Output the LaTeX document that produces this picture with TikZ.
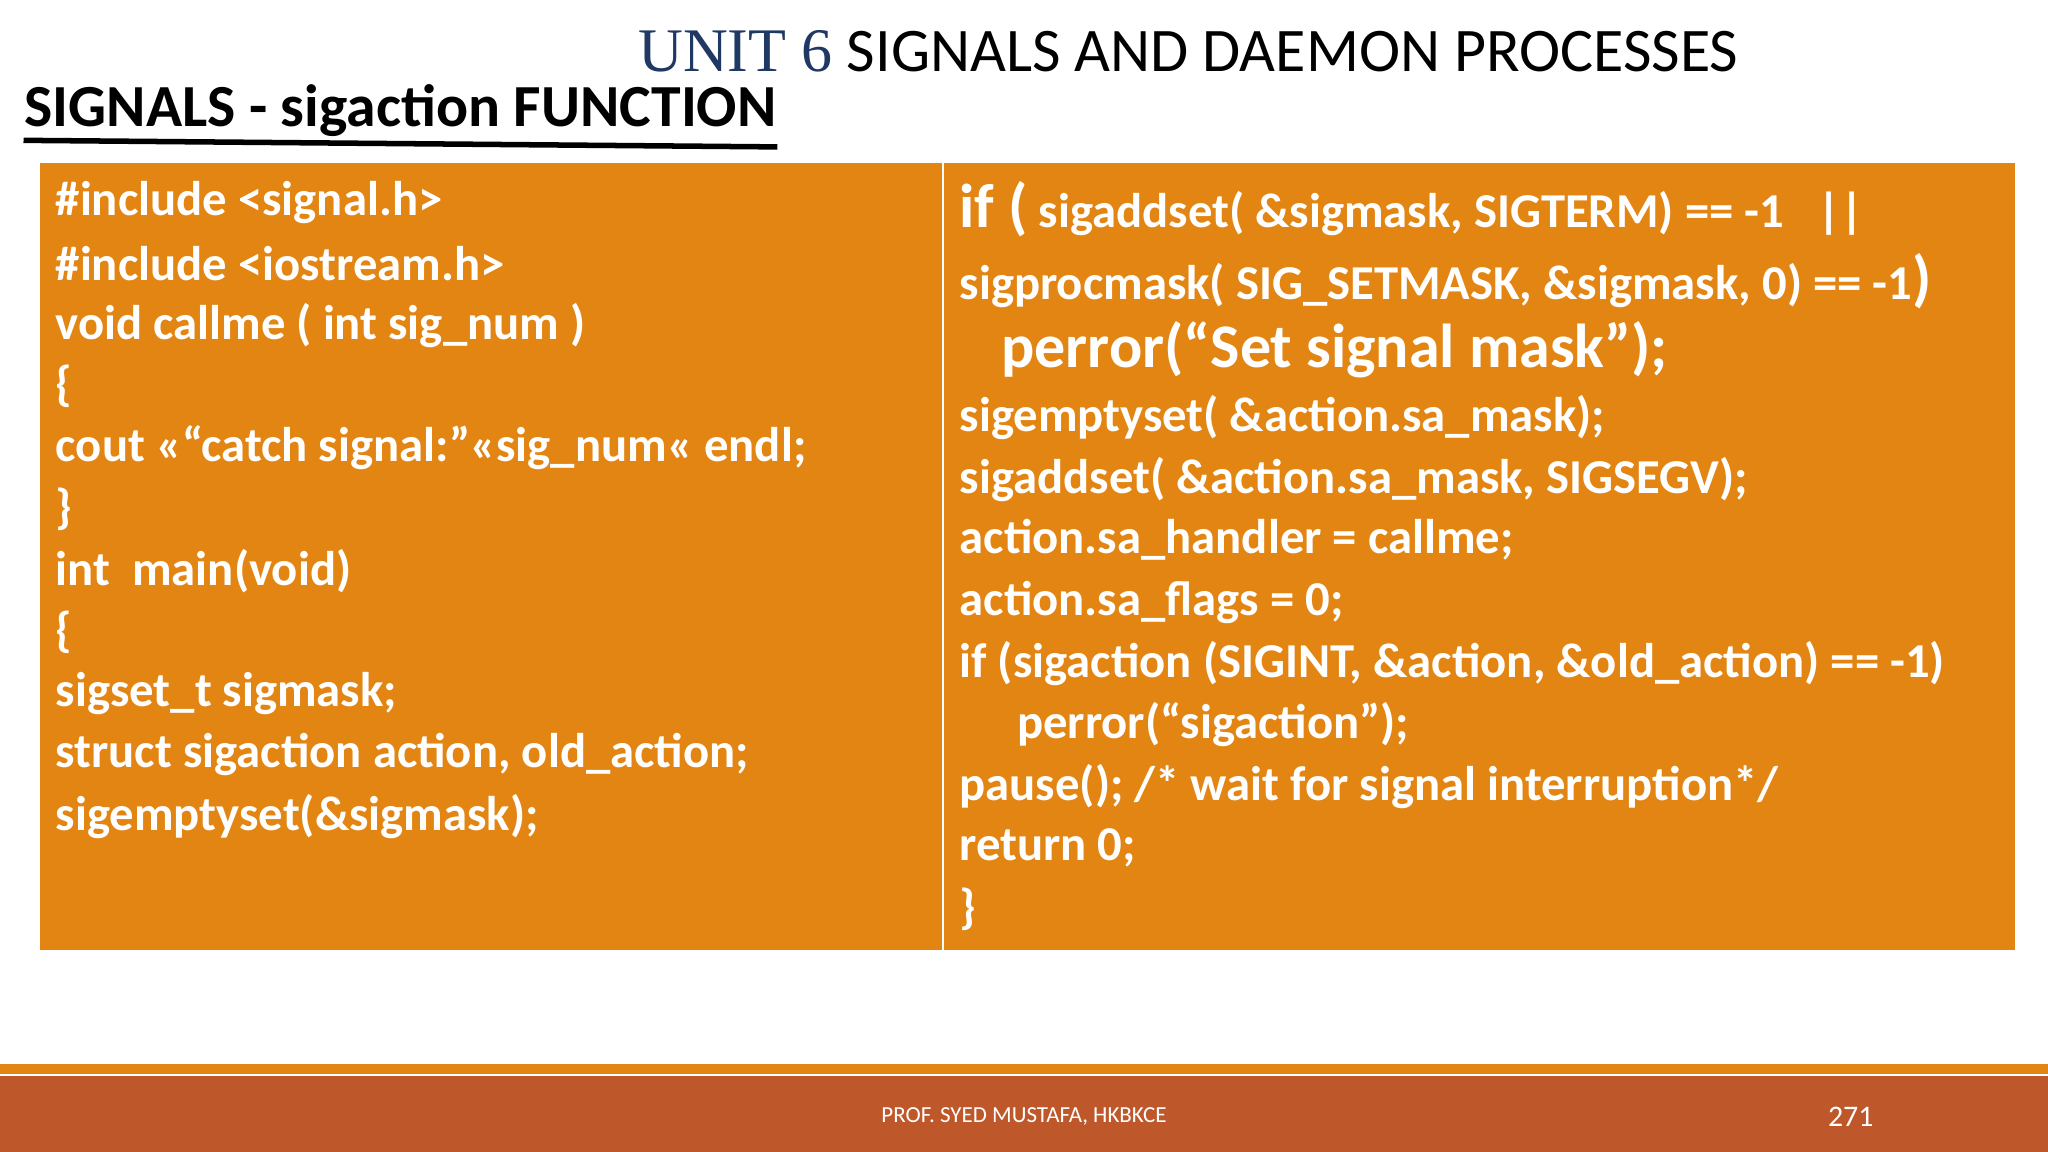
\documentclass[tikz,border=0pt]{standalone}
\usepackage{fontspec}
\setmainfont{Carlito}
\newfontfamily\serifx{Liberation Serif}
\definecolor{orng}{HTML}{E38513}
\definecolor{rust}{HTML}{BE582B}
\definecolor{navy}{HTML}{1F3864}
\begin{document}
\begin{tikzpicture}[x=0.01cm,y=-0.01cm,
  code/.style={anchor=west,inner sep=0pt,text=white,font=\fontsize{10.6}{12}\selectfont\bfseries},
  codeR/.style={code}]
\useasboundingbox (0,0) rectangle (1568,882);
\fill[white] (0,0) rectangle (1568,882);
\node[anchor=base west,inner sep=0pt,font=\fontsize{13.5}{15}\selectfont] (title) at (488,55) {{\serifx\color{navy}UNIT 6} SIGNALS AND DAEMON PROCESSES};
\node[anchor=base west,inner sep=0pt,font=\fontsize{13}{15}\selectfont\bfseries] (sub) at (18,97) {SIGNALS - sigaction FUNCTION};
\draw[line width=1.2pt] (sub.south west)++(0,2) coordinate (u1) -- ([yshift=-2]sub.south east);
\fill[orng] (31,125) rectangle (721,727);
\fill[orng] (723,125) rectangle (1543,727);
\foreach \t [count=\i] in {
 {\#include <signal.h>},
 {\#include <iostream.h>},
 {void callme ( int sig\_num )},
 {\{},
 {cout <<“catch signal:”<<sig\_num<< endl;},
 {\}},
 {int\ \ main(void)},
 {\{},
 {sigset\_t sigmask;},
 {struct sigaction action, old\_action;},
 {sigemptyset(\&sigmask);}}
 \node[code] (l\i) at (42,{155+47*(\i-1)}) {\t};
\node[code] (r1) at (734,160) {{\fontsize{13.5}{15}\selectfont if (} sigaddset( \&sigmask, SIGTERM) == -1\ \ \ ||};
\node[code] (r2) at (734,215) {sigprocmask( SIG\_SETMASK, \&sigmask, 0) == -1{\fontsize{13.5}{15}\selectfont )}};
\node[code,font=\fontsize{13.5}{15}\selectfont\bfseries] (r3) at (766,268) {perror(“Set signal mask”);};
\node[code] (r4) at (734,320) {sigemptyset( \&action.sa\_mask);};
\node[code] (r5) at (734,367) {sigaddset( \&action.sa\_mask, SIGSEGV);};
\node[code] (r6) at (734,413) {action.sa\_handler = callme;};
\node[code] (r7) at (734,461) {action.sa\_flags = 0;};
\node[code] (r8) at (734,508) {if (sigaction (SIGINT, \&action, \&old\_action) == -1)};
\node[code] (r9) at (778,555) {perror(“sigaction”);};
\node[code] (r10) at (734,602) {pause(); /* wait for signal interruption*/};
\node[code] (r11) at (734,649) {return 0;};
\node[code] (r12) at (734,696) {\}};
\fill[orng] (0,815) rectangle (1568,822);
\fill[rust] (0,824) rectangle (1568,882);
\node[inner sep=0pt,text=white,font=\fontsize{5}{6}\selectfont] (foot) at (784,855) {PROF. SYED MUSTAFA, HKBKCE};
\node[inner sep=0pt,text=white,font=\fontsize{6.5}{8}\selectfont] (pg) at (1417,855) {271};
\end{tikzpicture}
\end{document}
